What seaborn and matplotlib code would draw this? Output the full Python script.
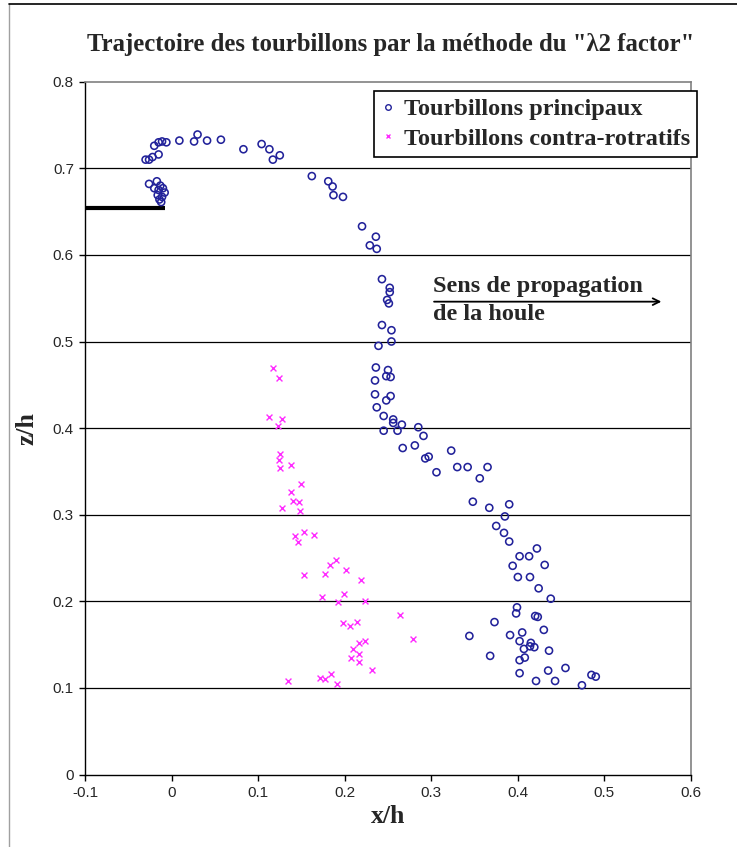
import matplotlib
matplotlib.use("Agg")
from matplotlib import pyplot as plt
from matplotlib.lines import Line2D
import seaborn as sns

# Tourbillons principaux (x/h, z/h)
main_x = [-0.030, -0.026, -0.022, -0.015, -0.020, -0.015, -0.011, -0.006, 0.009, 0.026,
          0.030, 0.041, 0.057, 0.083, 0.104, 0.113, 0.125, 0.117,
          -0.026, -0.017, -0.020, -0.013, -0.010, -0.015, -0.008, -0.016, -0.011, -0.014, -0.012,
          0.162, 0.181, 0.186, 0.187, 0.198, 0.220, 0.236, 0.229, 0.237, 0.243,
          0.252, 0.252, 0.249, 0.251, 0.243, 0.254, 0.254, 0.239, 0.236, 0.250,
          0.248, 0.253, 0.235, 0.235, 0.253, 0.248, 0.237, 0.245, 0.256, 0.256,
          0.266, 0.245, 0.261, 0.285, 0.291, 0.267, 0.281, 0.297, 0.293, 0.306,
          0.323, 0.330, 0.342, 0.365, 0.356, 0.348, 0.367, 0.390, 0.385, 0.375,
          0.384, 0.390, 0.402, 0.413, 0.422, 0.431, 0.394, 0.400, 0.414, 0.424,
          0.438, 0.399, 0.398, 0.420, 0.423, 0.373, 0.344, 0.391, 0.405, 0.430,
          0.402, 0.415, 0.414, 0.419, 0.407, 0.436, 0.368, 0.408, 0.402, 0.455,
          0.435, 0.402, 0.485, 0.490, 0.421, 0.443, 0.474]
main_z = [0.710, 0.710, 0.713, 0.716, 0.726, 0.730, 0.731, 0.730, 0.732, 0.731,
          0.739, 0.732, 0.733, 0.722, 0.728, 0.722, 0.715, 0.710,
          0.682, 0.685, 0.677, 0.680, 0.677, 0.675, 0.672, 0.669, 0.667, 0.664, 0.661,
          0.691, 0.685, 0.679, 0.669, 0.667, 0.633, 0.621, 0.611, 0.607, 0.572,
          0.562, 0.557, 0.548, 0.544, 0.519, 0.513, 0.500, 0.495, 0.470, 0.467,
          0.460, 0.459, 0.455, 0.439, 0.437, 0.432, 0.424, 0.414, 0.410, 0.406,
          0.404, 0.397, 0.397, 0.401, 0.391, 0.377, 0.380, 0.367, 0.365, 0.349,
          0.374, 0.355, 0.355, 0.355, 0.342, 0.315, 0.308, 0.312, 0.298, 0.287,
          0.279, 0.269, 0.252, 0.252, 0.261, 0.242, 0.241, 0.228, 0.228, 0.215,
          0.203, 0.193, 0.186, 0.183, 0.182, 0.176, 0.160, 0.161, 0.164, 0.167,
          0.154, 0.152, 0.148, 0.147, 0.145, 0.143, 0.137, 0.135, 0.132, 0.123,
          0.120, 0.117, 0.115, 0.113, 0.108, 0.108, 0.103]

# Tourbillons contra-rotatifs
contra_x = [0.117, 0.124, 0.113, 0.128, 0.123, 0.125, 0.124, 0.125, 0.138, 0.149,
            0.138, 0.140, 0.147, 0.127, 0.148, 0.153, 0.142, 0.146, 0.164, 0.190,
            0.183, 0.202, 0.219, 0.199, 0.192, 0.224, 0.153, 0.177, 0.174, 0.264,
            0.198, 0.206, 0.214, 0.217, 0.223, 0.209, 0.216, 0.207, 0.216, 0.231,
            0.279, 0.134, 0.171, 0.177, 0.184, 0.191]
contra_z = [0.469, 0.458, 0.413, 0.410, 0.402, 0.370, 0.363, 0.354, 0.357, 0.335,
            0.326, 0.316, 0.315, 0.308, 0.304, 0.280, 0.275, 0.268, 0.277, 0.248,
            0.242, 0.236, 0.225, 0.209, 0.199, 0.200, 0.230, 0.232, 0.205, 0.184,
            0.175, 0.171, 0.176, 0.152, 0.154, 0.145, 0.139, 0.134, 0.130, 0.121,
            0.156, 0.108, 0.112, 0.110, 0.116, 0.104]

# plaque (trait noir épais)
plate_x = [-0.1, -0.008]
plate_z = [0.654, 0.654]

x_ticks = [-0.1, 0.0, 0.1, 0.2, 0.3, 0.4, 0.5, 0.6]
x_labels = ["-0.1", "0", "0.1", "0.2", "0.3", "0.4", "0.5", "0.6"]
z_ticks = [0.0, 0.1, 0.2, 0.3, 0.4, 0.5, 0.6, 0.7, 0.8]
z_labels = ["0", "0.1", "0.2", "0.3", "0.4", "0.5", "0.6", "0.7", "0.8"]

BLUE = "#22229a"
PINK = "#ff2bff"
SERIF = ["Liberation Serif", "DejaVu Serif"]

sns.set_theme(style="white")
plt.rcParams["font.family"] = ["Liberation Sans", "DejaVu Sans"]

fig = plt.figure(figsize=(7.37, 8.47), dpi=100)
ax = fig.add_axes([85 / 737, 72.5 / 847, 606 / 737, 692.8 / 847])

for z in z_ticks[1:-1]:
    ax.axhline(z, color="black", lw=0.9, zorder=0)

ax.plot(plate_x, plate_z, color="black", lw=3, solid_capstyle="butt", zorder=2)

sns.scatterplot(x=main_x, y=main_z, ax=ax, marker="o", s=26, linewidth=1.15,
                edgecolor=BLUE, color=BLUE, zorder=3)
ax.collections[-1].set_facecolor("none")
sns.scatterplot(x=contra_x, y=contra_z, ax=ax, marker="x", s=18, linewidth=1.0,
                color=PINK, zorder=3)

ax.set_xlim(-0.1, 0.6)
ax.set_ylim(0, 0.8)
ax.set_xticks(x_ticks)
ax.set_xticklabels(x_labels)
ax.set_yticks(z_ticks)
ax.set_yticklabels(z_labels)
ax.tick_params(axis="both", direction="out", length=4, width=1, color="black",
               labelsize=11, pad=4, bottom=True, left=True)

for side in ["left", "bottom"]:
    ax.spines[side].set_color("black")
    ax.spines[side].set_linewidth(1)
for side in ["top", "right"]:
    ax.spines[side].set_color("#808080")
    ax.spines[side].set_linewidth(1.2)

ax.set_xlabel("x/h", fontsize=18.5, fontweight="bold", family=SERIF, labelpad=4)
ax.set_ylabel("z/h", fontsize=18.5, fontweight="bold", family=SERIF, labelpad=10)

fig.text(0.53, 0.948, 'Trajectoire des tourbillons par la méthode du "λ2 factor"',
         ha="center", va="center", fontsize=17.8, fontweight="bold", family=SERIF)

handles = [
    Line2D([], [], ls="none", marker="o", markersize=4, mfc="none", mec=BLUE, mew=1),
    Line2D([], [], ls="none", marker="x", markersize=3.5, color=PINK, mew=1),
]
leg = ax.legend(handles, ["Tourbillons principaux", "Tourbillons contra-rotratifs"],
                loc="upper right", bbox_to_anchor=(1.01, 0.987), frameon=True,
                fancybox=False, edgecolor="black", framealpha=1, borderpad=0.3,
                handlelength=0.5, handletextpad=0.4, labelspacing=0.32,
                borderaxespad=0,
                prop={"family": SERIF, "weight": "bold", "size": 17.5})
leg.get_frame().set_linewidth(1.2)

ax.annotate("", xy=(0.569, 0.546), xytext=(0.300, 0.546),
            arrowprops=dict(arrowstyle="->", color="black", lw=1.3))
ax.text(0.302, 0.551, "Sens de propagation", ha="left", va="bottom",
        fontsize=17.5, fontweight="bold", family=SERIF)
ax.text(0.302, 0.543, "de la houle", ha="left", va="top",
        fontsize=17.5, fontweight="bold", family=SERIF)

fig.add_artist(Line2D([9 / 737, 9 / 737], [0, 1 - 4 / 847], transform=fig.transFigure,
                      color="#a0a0a0", lw=1))
fig.add_artist(Line2D([9 / 737, 1], [1 - 4 / 847, 1 - 4 / 847], transform=fig.transFigure,
                      color="black", lw=1.2))

fig.savefig("out.png", dpi=100, facecolor="white")
